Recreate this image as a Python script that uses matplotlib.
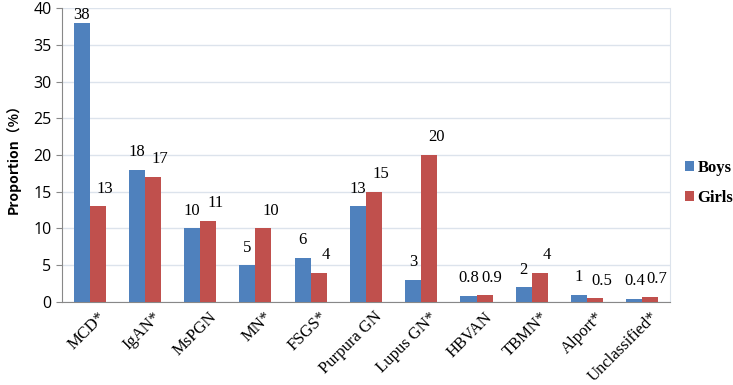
import numpy as np
import matplotlib
matplotlib.use("Agg")
import matplotlib.pyplot as plt
import matplotlib.transforms as mtransforms

categories = ["MCD*", "IgAN*", "MsPGN", "MN*", "FSGS*", "Purpura GN",
              "Lupus GN*", "HBVAN", "TBMN*", "Alport*", "Unclassified*"]
boys = [38, 18, 10, 5, 6, 13, 3, 0.8, 2, 1, 0.4]
girls = [13, 17, 11, 10, 4, 15, 20, 0.9, 4, 0.5, 0.7]
boys_labels = ["38", "18", "10", "5", "6", "13", "3", "0.8", "2", "1", "0.4"]
girls_labels = ["13", "17", "11", "10", "4", "15", "20", "0.9", "4", "0.5", "0.7"]

blue = "#4F81BD"
red = "#C0504D"

fig = plt.figure(figsize=(7.33, 3.85), dpi=100)
ax = fig.add_axes([0.0846, 0.2156, 0.8294, 0.7636])

x = np.arange(len(categories))
w = 0.29
b1 = ax.bar(x - w / 2, boys, w, color=blue, label="Boys", zorder=3)
b2 = ax.bar(x + w / 2, girls, w, color=red, label="Girls", zorder=3)

serif = "Liberation Serif"


def put_labels(bars, labels, dx):
    for rect, lab in zip(bars, labels):
        h = rect.get_height()
        dy = 0 if h > 35 else 7
        ax.annotate(lab, (rect.get_x() + rect.get_width() / 2, h),
                    xytext=(dx, dy), textcoords="offset points", ha="center",
                    va="bottom", fontsize=12, family=serif, annotation_clip=False)


put_labels(b1, boys_labels, 0)
put_labels(b2, girls_labels, 5)

ax.set_xlim(-0.5, len(categories) - 0.5)
ax.set_ylim(0, 40)
ax.set_yticks(range(0, 41, 5))
ax.yaxis.grid(True, color="#DCE3EC", linewidth=1, zorder=0)
ax.tick_params(axis="y", length=4, color="#888888", labelsize=11.5)
for t in ax.get_yticklabels():
    t.set_family("Open Sans")
ax.set_xticks(x)
ax.set_xticklabels(categories, rotation=45, ha="right", rotation_mode="anchor",
                   family=serif, fontsize=12)
ax.tick_params(axis="x", length=0, pad=5)
# nudge the rotated labels a little to the right, like the original
shift = mtransforms.ScaledTranslation(8 / 100, 0, fig.dpi_scale_trans)
for t in ax.get_xticklabels():
    t.set_transform(t.get_transform() + shift)

ax.spines["top"].set_visible(False)
ax.spines["right"].set_color("#DCE3EC")
ax.spines["left"].set_color("#888888")
ax.spines["bottom"].set_color("#888888")

ax.set_ylabel("Proportion（%）", fontsize=10, fontweight="bold",
              family=["Noto Sans CJK SC", "DejaVu Sans"], labelpad=9)

leg = ax.legend(loc="center left", bbox_to_anchor=(1.025, 0.405), frameon=False,
                prop={"family": serif, "weight": "bold", "size": 12},
                handlelength=0.55, handleheight=0.55, handletextpad=0.2,
                labelspacing=0.8, borderaxespad=0, borderpad=0)

fig.savefig("out.png", dpi=100)
